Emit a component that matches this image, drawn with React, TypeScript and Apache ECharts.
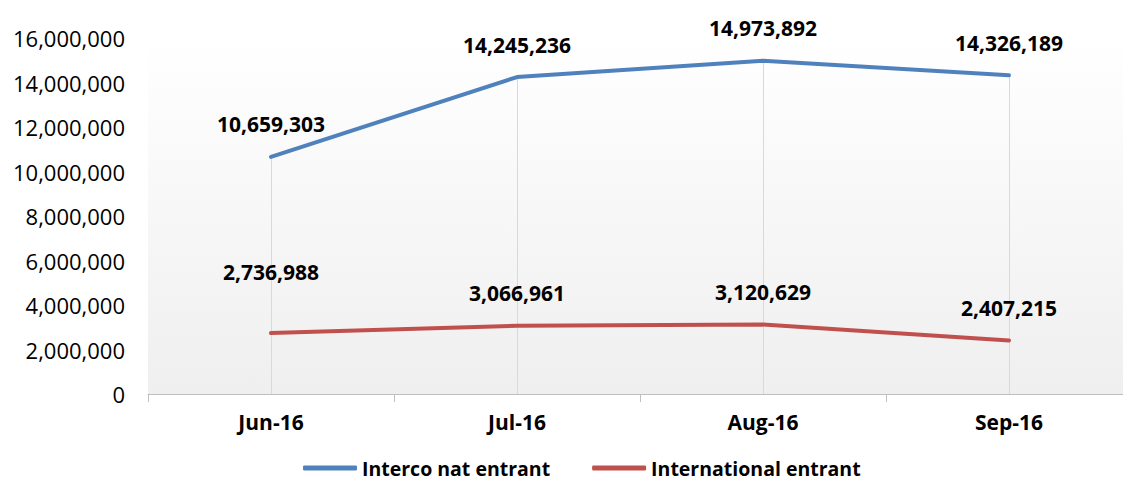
import React, { useEffect, useRef } from "react";
import * as echarts from "echarts";

const categories = ["Jun-16", "Jul-16", "Aug-16", "Sep-16"];
const intercoNat = [10659303, 14245236, 14973892, 14326189];
const international = [2736988, 3066961, 3120629, 2407215];
const seriesNames = ["Interco nat entrant", "International entrant"];
const yMin = 0;
const yMax = 16000000;
const yInterval = 2000000;

const fmt = (v: number) => v.toLocaleString("en-US");
const FONT = "'Open Sans', 'Liberation Sans', sans-serif";

export default function App() {
  const ref = useRef<HTMLDivElement>(null);
  useEffect(() => {
    if (!ref.current) return;
    const chart = echarts.init(ref.current, undefined, { renderer: "svg" });
    const dropTop = intercoNat.map((v, i) => Math.max(v, international[i]));
    const labelStyle = {
      show: true,
      position: "top",
      distance: 22,
      fontFamily: FONT,
      fontSize: 21,
      fontWeight: "bold",
      color: "#000",
      formatter: (p: any) => fmt(p.value),
    };
    chart.setOption({
      animation: false,
      textStyle: { fontFamily: FONT },
      grid: {
        left: 148,
        right: 9,
        top: 38,
        bottom: 91,
        show: true,
        borderWidth: 0,
        backgroundColor: new echarts.graphic.LinearGradient(0, 0, 0, 1, [
          { offset: 0, color: "#ffffff" },
          { offset: 1, color: "#efefef" },
        ]),
      },
      legend: {
        left: 303,
        top: 458,
        padding: 0,
        itemWidth: 54,
        itemHeight: 5,
        itemGap: 42,
        icon: "roundRect",
        textStyle: { fontFamily: FONT, fontSize: 19.5, fontWeight: "bold", color: "#000" },
        data: seriesNames,
      },
      xAxis: {
        type: "category",
        data: categories,
        boundaryGap: true,
        axisLine: { lineStyle: { color: "#bfbfbf", width: 1 } },
        axisTick: { show: true, length: 8, lineStyle: { color: "#bfbfbf" } },
        axisLabel: { fontFamily: FONT, fontSize: 21, fontWeight: "bold", color: "#000", margin: 17 },
        splitLine: { show: false },
      },
      yAxis: {
        type: "value",
        min: yMin,
        max: yMax,
        interval: yInterval,
        axisLine: { show: false },
        axisTick: { show: false },
        splitLine: { show: false },
        axisLabel: {
          fontFamily: FONT,
          fontSize: 22,
          color: "#000",
          margin: 23,
          formatter: (v: number) => fmt(v),
        },
      },
      series: [
        {
          name: seriesNames[0],
          type: "line",
          data: intercoNat,
          symbol: "circle",
          symbolSize: 0,
          showSymbol: true,
          lineStyle: { color: "#4f81bd", width: 4, cap: "round" },
          itemStyle: { color: "#4f81bd" },
          label: labelStyle,
          markLine: {
            silent: true,
            symbol: "none",
            label: { show: false },
            lineStyle: { color: "#d9d9d9", width: 1, type: "solid" },
            data: dropTop.map((v, i) => [
              { coord: [i, v] },
              { coord: [i, 0] },
            ]),
            z: 1,
          },
          z: 3,
        },
        {
          name: seriesNames[1],
          type: "line",
          data: international.map((v, i) =>
            i === 0 ? { value: v, label: { offset: [0, -29] } } : v
          ),
          symbol: "circle",
          symbolSize: 0,
          showSymbol: true,
          lineStyle: { color: "#c0504d", width: 4, cap: "round" },
          itemStyle: { color: "#c0504d" },
          label: labelStyle,
          z: 3,
        },
      ],
    });
    return () => chart.dispose();
  }, []);
  return (
    <div style={{ position: "absolute", left: 0, top: 0, width: 1123, height: 485, overflow: "hidden", background: "#fff" }}>
      <div ref={ref} style={{ width: 1141, height: 485 }} />
    </div>
  );
}
